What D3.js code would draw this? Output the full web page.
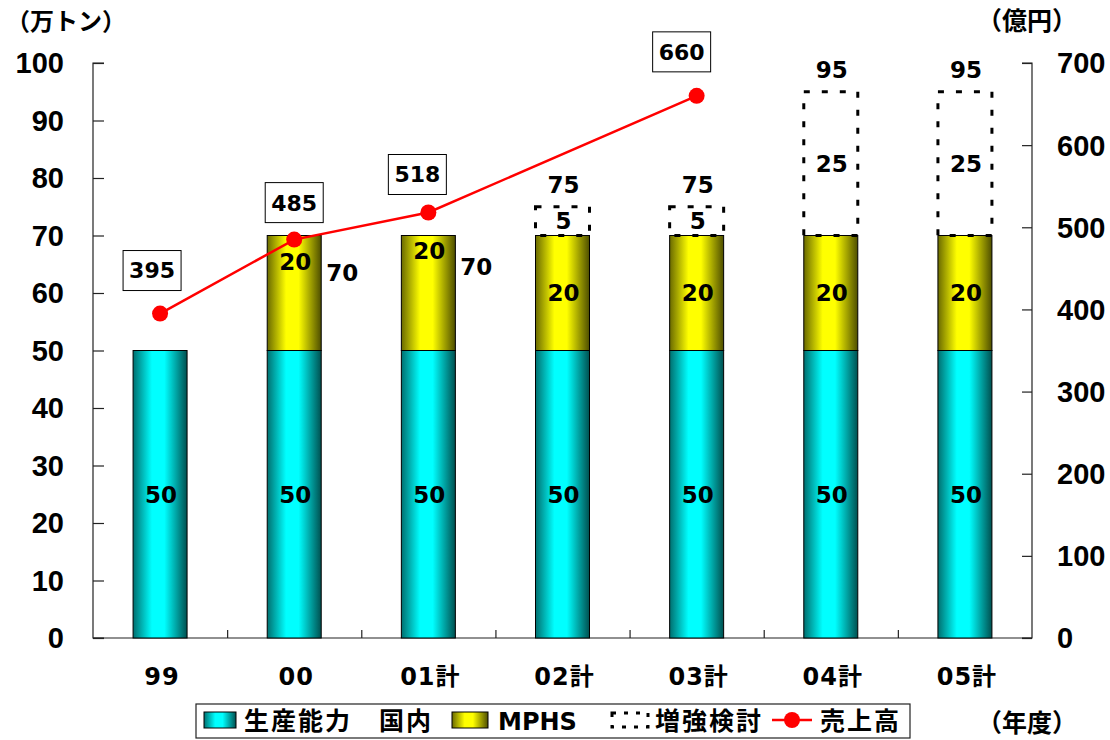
<!DOCTYPE html>
<html>
<head>
<meta charset="utf-8">
<script src="https://cdn.jsdelivr.net/npm/d3@7/dist/d3.min.js"></script>
<style>
  html, body { margin: 0; padding: 0; background: #fff; }
  svg { display: block; }
  text { font-family: "Liberation Sans", Arial, "Noto Sans CJK JP", sans-serif; font-weight: bold; fill: #000; }
  .jp { font-family: "Noto Sans CJK JP", sans-serif; font-weight: bold; }
  .wide { font-family: "DejaVu Sans", "Noto Sans CJK JP", sans-serif; font-weight: bold; }
</style>
</head>
<body>
<svg id="chart" width="1110" height="740"></svg>
<script>
// 生産能力（万トン）と売上高（億円）の推移
const categories = ["99", "00", "01計", "02計", "03計", "04計", "05計"];
const domestic   = [50, 50, 50, 50, 50, 50, 50];    // 生産能力 国内
const mphs       = [0, 20, 20, 20, 20, 20, 20];     // MPHS
const expansion  = [0, 0, 0, 5, 5, 25, 25];         // 増強検討
const sales      = [395, 485, 518, null, 660, null, null]; // 売上高
const leftTicks  = [0, 10, 20, 30, 40, 50, 60, 70, 80, 90, 100];
const rightTicks = [0, 100, 200, 300, 400, 500, 600, 700];

// label nudges (px) for the sales callouts, relative to each point
const salesLabelNudge = [[-8, -43], [0, -37], [-11, -38], null, [-15, -44]];

const svg = d3.select("#chart");
const plot = { left: 93, right: 1032, top: 63, bottom: 638 };

const x = d3.scaleBand().domain(categories).range([plot.left, plot.right]).padding(0);
const y = d3.scaleLinear().domain([0, 100]).range([plot.bottom, plot.top]);
const y2 = d3.scaleLinear().domain([0, 700]).range([plot.bottom, plot.top]);
const barW = 54;
const bx = c => x(c) + x.bandwidth() / 2 - barW / 2;
const cx = c => x(c) + x.bandwidth() / 2;

// cylinder-like shading gradients
const defs = svg.append("defs");
function shade(id, bright, darkL, darkR) {
  const g = defs.append("linearGradient").attr("id", id)
    .attr("x1", "0%").attr("x2", "100%").attr("y1", "0%").attr("y2", "0%");
  g.append("stop").attr("offset", "0%").attr("stop-color", darkL);
  g.append("stop").attr("offset", "35%").attr("stop-color", bright);
  g.append("stop").attr("offset", "58%").attr("stop-color", bright);
  g.append("stop").attr("offset", "100%").attr("stop-color", darkR);
}
shade("gCyan", "#00ffff", "#006f6f", "#005050");
shade("gYellow", "#ffff00", "#6a6a00", "#4e4e00");

// axes
const axisColor = "#222";
const gl = svg.append("g").attr("transform", `translate(${plot.left},0)`)
  .call(d3.axisRight(y).tickValues(leftTicks).tickSize(11).tickFormat(""));
const gr = svg.append("g").attr("transform", `translate(${plot.right},0)`)
  .call(d3.axisLeft(y2).tickValues(rightTicks).tickSize(10).tickFormat(""));
const boundaries = d3.range(categories.length + 1).map(i => plot.left + i * x.bandwidth());
const xTickScale = d3.scaleLinear().domain([plot.left, plot.right]).range([plot.left, plot.right]);
const gb = svg.append("g").attr("transform", `translate(0,${plot.bottom})`)
  .call(d3.axisTop(xTickScale).tickValues(boundaries.slice(1, -1)).tickSize(8).tickFormat(""));
[gl, gr, gb].forEach(g => {
  g.select(".domain").attr("stroke", axisColor).attr("stroke-width", 1.2);
  g.selectAll(".tick line").attr("stroke", axisColor).attr("stroke-width", 1.2);
});
gl.select(".domain").attr("d", `M11,${plot.top}H0V${plot.bottom}H11`);
gr.select(".domain").attr("d", `M-10,${plot.top}H0V${plot.bottom}H-10`);
gb.select(".domain").attr("d", `M${plot.left},0H${plot.right}`);

// tick labels
svg.append("g").selectAll("text").data(leftTicks).join("text")
  .attr("x", 64).attr("y", d => y(d)).attr("dy", "0.36em")
  .attr("text-anchor", "end").style("font-size", "29px").text(d => d);
svg.append("g").selectAll("text").data(rightTicks).join("text")
  .attr("x", 1057).attr("y", d => y2(d)).attr("dy", "0.36em")
  .attr("text-anchor", "start").style("font-size", "29px").text(d => d);
svg.append("g").selectAll("text").data(categories).join("text")
  .attr("class", "wide")
  .attr("x", d => cx(d) + 2).attr("y", 685)
  .attr("text-anchor", "middle").style("font-size", "24px").style("letter-spacing", "1px").text(d => d);

// axis titles
svg.append("text").attr("class", "jp").attr("x", 6).attr("y", 30).style("font-size", "24px").text("（万トン）");
svg.append("text").attr("class", "jp").attr("x", 977).attr("y", 30).style("font-size", "25px").text("（億円）");
svg.append("text").attr("class", "jp").attr("x", 977).attr("y", 732).style("font-size", "25px").text("（年度）");

// bars
const rows = categories.map((c, i) => ({ c, i, dom: domestic[i], mp: mphs[i], ex: expansion[i] }));
const bars = svg.append("g");
bars.selectAll("rect.dom").data(rows).join("rect").attr("class", "dom")
  .attr("x", d => bx(d.c)).attr("width", barW)
  .attr("y", d => y(d.dom)).attr("height", d => y(0) - y(d.dom))
  .attr("fill", "url(#gCyan)").attr("stroke", "#000").attr("stroke-width", 1);
bars.selectAll("rect.mp").data(rows.filter(d => d.mp > 0)).join("rect").attr("class", "mp")
  .attr("x", d => bx(d.c)).attr("width", barW)
  .attr("y", d => y(d.dom + d.mp)).attr("height", d => y(d.dom) - y(d.dom + d.mp))
  .attr("fill", "url(#gYellow)").attr("stroke", "#000").attr("stroke-width", 1);
bars.selectAll("rect.ex").data(rows.filter(d => d.ex > 0)).join("rect").attr("class", "ex")
  .attr("x", d => bx(d.c)).attr("width", barW)
  .attr("y", d => y(d.dom + d.mp + d.ex)).attr("height", d => y(d.dom + d.mp) - y(d.dom + d.mp + d.ex))
  .attr("fill", "none").attr("stroke", "#000").attr("stroke-width", 3).attr("stroke-dasharray", "6,12");

// segment labels
const lbl = svg.append("g").attr("class", "wide").style("font-size", "23px");
lbl.selectAll("text.dom").data(rows).join("text").attr("class", "wide")
  .attr("x", d => cx(d.c) + 1).attr("y", d => y(d.dom / 2)).attr("dy", "0.36em")
  .attr("text-anchor", "middle").text(d => d.dom);
// where the sales line crosses the MPHS segment, its label sits near the top and the total goes beside the bar
lbl.selectAll("text.mp").data(rows.filter(d => d.mp > 0)).join("text").attr("class", "wide")
  .attr("x", d => cx(d.c) + 1)
  .attr("y", d => d.ex > 0 ? y(d.dom + d.mp / 2) : y(d.dom + d.mp) + (d.i === 1 ? 26 : 15))
  .attr("dy", "0.36em").attr("text-anchor", "middle").text(d => d.mp);
lbl.selectAll("text.ex").data(rows.filter(d => d.ex > 0)).join("text").attr("class", "wide")
  .attr("x", d => cx(d.c) + 1).attr("y", d => y(d.dom + d.mp + d.ex / 2)).attr("dy", "0.36em")
  .attr("text-anchor", "middle").text(d => d.ex);
const totals = rows.filter(d => d.mp > 0);
lbl.selectAll("text.tot").data(totals).join("text").attr("class", "wide")
  .attr("x", d => d.ex > 0 ? cx(d.c) + 1 : bx(d.c) + barW + 21)
  .attr("y", d => d.ex > 0 ? y(d.dom + d.mp + d.ex) - 22 : y(d.dom + d.mp) + (d.i === 1 ? 37 : 31))
  .attr("dy", "0.36em").attr("text-anchor", "middle")
  .text(d => d.dom + d.mp + d.ex);

// sales line
const pts = sales.map((v, i) => ({ c: categories[i], i, v })).filter(d => d.v != null);
svg.append("path").datum(pts)
  .attr("d", d3.line().x(d => cx(d.c)).y(d => y2(d.v)))
  .attr("fill", "none").attr("stroke", "#ff0000").attr("stroke-width", 2.5);
svg.append("g").selectAll("circle").data(pts).join("circle")
  .attr("cx", d => cx(d.c)).attr("cy", d => y2(d.v)).attr("r", 8).attr("fill", "#ff0000");

// sales callouts
const callouts = svg.append("g").selectAll("g").data(pts).join("g")
  .attr("transform", d => {
    const n = salesLabelNudge[d.i];
    return `translate(${cx(d.c) + n[0]},${y2(d.v) + n[1]})`;
  });
callouts.append("rect").attr("x", -29).attr("y", -20).attr("width", 58).attr("height", 40)
  .attr("fill", "#fff").attr("stroke", "#000").attr("stroke-width", 1);
callouts.append("text").attr("class", "wide").attr("y", 0).attr("dy", "0.36em").attr("text-anchor", "middle")
  .style("font-size", "22px").text(d => d.v);

// legend
const lg = svg.append("g");
lg.append("rect").attr("x", 196).attr("y", 704).attr("width", 714).attr("height", 34)
  .attr("fill", "#fff").attr("stroke", "#222").attr("stroke-width", 1.2);
lg.append("rect").attr("x", 204).attr("y", 712).attr("width", 32).attr("height", 16)
  .attr("fill", "url(#gCyan)").attr("stroke", "#000");
lg.append("text").attr("class", "jp").attr("x", 244).attr("y", 730).style("font-size", "25px")
  .style("letter-spacing", "2px").text("生産能力　国内");
lg.append("rect").attr("x", 452).attr("y", 712).attr("width", 36).attr("height", 16)
  .attr("fill", "url(#gYellow)").attr("stroke", "#000");
lg.append("text").attr("class", "wide").attr("x", 498).attr("y", 730).style("font-size", "24px")
  .text("MPHS");
lg.append("rect").attr("x", 612).attr("y", 713).attr("width", 36).attr("height", 14)
  .attr("fill", "none").attr("stroke", "#000").attr("stroke-width", 3).attr("stroke-dasharray", "4,8");
lg.append("text").attr("class", "jp").attr("x", 655).attr("y", 730).style("font-size", "25px")
  .style("letter-spacing", "2px").text("増強検討");
lg.append("line").attr("x1", 772).attr("x2", 812).attr("y1", 720).attr("y2", 720)
  .attr("stroke", "#ff0000").attr("stroke-width", 2.5);
lg.append("circle").attr("cx", 792).attr("cy", 720).attr("r", 8).attr("fill", "#ff0000");
lg.append("text").attr("class", "jp").attr("x", 820).attr("y", 730).style("font-size", "25px")
  .style("letter-spacing", "2px").text("売上高");
</script>
</body>
</html>
